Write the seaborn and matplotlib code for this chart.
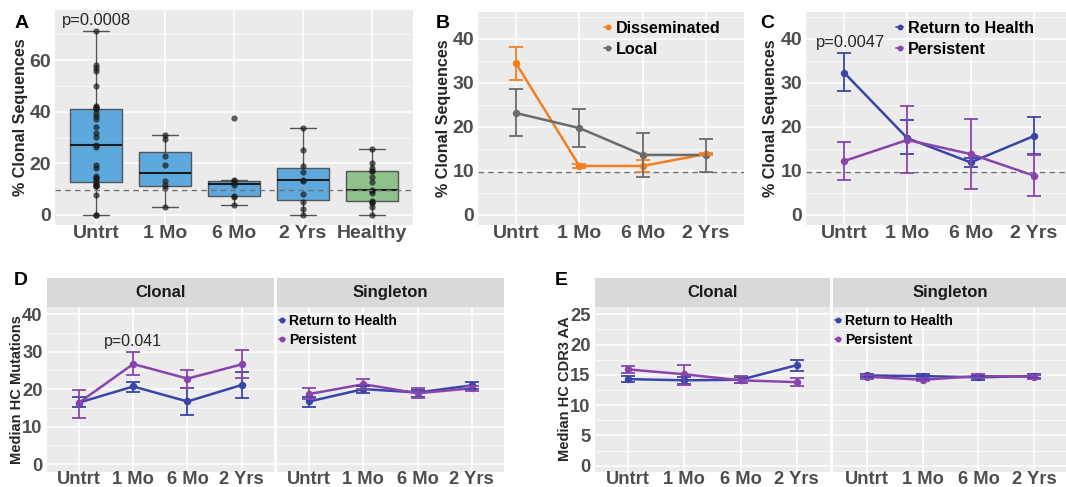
import numpy as np
import pandas as pd
import matplotlib
matplotlib.use("Agg")
import matplotlib.pyplot as plt
import seaborn as sns
from matplotlib.lines import Line2D
from matplotlib.ticker import MultipleLocator

# DATA

times = ["Untrt", "1 Mo", "6 Mo", "2 Yrs"]
groups_a = ["Untrt", "1 Mo", "6 Mo", "2 Yrs", "Healthy"]

untrt_pct = [71.3, 58.0, 57.0, 56.0, 50.2, 42.4, 41.7, 41.3, 41.0, 39.7, 38.4, 37.4,
             34.3, 31.9, 30.4, 27.2, 26.5, 19.5, 18.2, 15.0, 14.3, 14.3, 13.2, 12.4,
             11.7, 11.7, 11.1, 11.1, 7.8, 0.0, 0.0]
mo1_pct = [30.9, 29.6, 22.8, 19.3, 13.3, 11.5, 10.4, 2.9]
mo6_pct = [37.5, 13.5, 13.0, 12.4, 11.7, 7.4, 7.0, 3.9]
yr2_pct = [33.6, 25.0, 18.9, 16.7, 13.7, 13.3, 8.2, 5.0, 2.2, 0.0]
healthy_pct = [25.4, 20.0, 18.2, 17.2, 16.9, 14.7, 12.6, 9.8, 9.3, 8.7, 5.5, 5.0, 4.8, 3.0, 0.0]
healthy_line = 9.8

# panel B
dissem_mean = [34.4, 11.1, 11.1, 13.8]
dissem_lo = [30.6, 10.6, 9.8, 13.5]
dissem_hi = [38.2, 11.6, 12.5, 14.1]
local_mean = [23.1, 19.7, 13.6, 13.6]
local_lo = [17.8, 15.3, 8.7, 9.8]
local_hi = [28.5, 24.0, 18.5, 17.2]

# panel C
c_rth_mean = [32.3, 17.4, 11.9, 17.9]
c_rth_lo = [28.1, 13.8, 10.8, 13.8]
c_rth_hi = [36.7, 21.5, 12.8, 22.1]
c_per_mean = [12.2, 17.0, 13.8, 8.9]
c_per_lo = [7.8, 9.4, 5.9, 4.3]
c_per_hi = [16.5, 24.7, 21.7, 13.6]

# panel D (clonal / singleton)
d_cl_rth_mean = [16.4, 20.7, 16.7, 21.1]
d_cl_rth_lo = [15.1, 19.1, 13.1, 17.7]
d_cl_rth_hi = [18.0, 22.0, 20.4, 24.5]
d_cl_per_mean = [16.4, 26.7, 22.8, 26.6]
d_cl_per_lo = [12.4, 23.8, 20.2, 22.9]
d_cl_per_hi = [19.8, 29.8, 25.1, 30.5]
d_si_rth_mean = [16.7, 20.0, 19.1, 21.0]
d_si_rth_lo = [15.3, 18.9, 18.0, 20.0]
d_si_rth_hi = [18.0, 20.7, 19.8, 22.0]
d_si_per_mean = [18.7, 21.3, 18.9, 20.2]
d_si_per_lo = [17.3, 20.0, 17.5, 19.5]
d_si_per_hi = [20.2, 22.7, 20.2, 20.8]

# panel E (clonal / singleton)
e_cl_rth_mean = [14.3, 14.1, 14.2, 16.6]
e_cl_rth_lo = [13.8, 13.5, 13.7, 15.7]
e_cl_rth_hi = [14.8, 14.7, 14.7, 17.5]
e_cl_per_mean = [15.9, 15.1, 14.1, 13.8]
e_cl_per_lo = [15.3, 13.4, 13.6, 13.2]
e_cl_per_hi = [16.5, 16.6, 14.8, 14.5]
e_si_rth_mean = [14.9, 14.8, 14.6, 14.8]
e_si_rth_lo = [14.6, 14.4, 14.2, 14.5]
e_si_rth_hi = [15.2, 15.1, 14.8, 15.1]
e_si_per_mean = [14.7, 14.2, 14.8, 14.7]
e_si_per_lo = [14.4, 14.0, 14.5, 14.4]
e_si_per_hi = [15.0, 14.5, 15.1, 15.0]

# STYLE

sns.set_style("darkgrid", {"axes.facecolor": "#EBEBEB", "grid.color": "white"})
plt.rcParams["font.family"] = ["Liberation Sans", "DejaVu Sans"]

BLUE_BOX = "#5DA9DD"
GREEN_BOX = "#8FC18D"
ORANGE = "#F47F20"
GRAY = "#6B6B6B"
BLUE = "#3A45A8"
PURPLE = "#8A45AD"
TICK_COL = "#4D4D4D"

W, H = 1066, 487
fig = plt.figure(figsize=(W / 100, H / 100), dpi=100)
fig.patch.set_facecolor("white")


def add_ax(x0, y0, x1, y1):
    return fig.add_axes([x0 / W, 1 - y1 / H, (x1 - x0) / W, (y1 - y0) / H])


def style_ax(ax, ylim, major, tick_size, ncat):
    ax.set_ylim(*ylim)
    ax.set_xlim(-0.6, ncat - 0.4)
    ax.yaxis.set_major_locator(MultipleLocator(major))
    ax.yaxis.set_minor_locator(MultipleLocator(major / 2))
    ax.grid(True, which="major", color="white", lw=1.1)
    ax.grid(True, which="minor", axis="y", color="white", lw=0.5)
    ax.set_axisbelow(True)
    for s in ax.spines.values():
        s.set_visible(False)
    ax.tick_params(which="major", length=2, width=0.8, color="#333333",
                   labelsize=tick_size, labelcolor=TICK_COL)
    ax.tick_params(axis="y", pad=0.8)
    ax.tick_params(axis="x", pad=-2.2)
    ax.tick_params(which="minor", length=0)
    for lab in ax.get_xticklabels() + ax.get_yticklabels():
        lab.set_fontweight("bold")
    ax.set_xlabel("")


def draw_series(ax, means, los, his, colors, names):
    rows = []
    for name, m in zip(names, means):
        for t, v in zip(times, m):
            rows.append({"time": t, "val": v, "grp": name})
    df = pd.DataFrame(rows)
    pos = np.arange(len(times))
    for m, lo, hi, c in zip(means, los, his, colors):
        m = np.array(m)
        ax.errorbar(pos, m, yerr=[m - np.array(lo), np.array(hi) - m], fmt="none",
                    ecolor=c, elinewidth=1.3, capsize=4.7, capthick=1.3, zorder=3)
    sns.pointplot(data=df, x="time", y="val", hue="grp", order=times, hue_order=names,
                  palette=dict(zip(names, colors)), errorbar=None, markers="o",
                  markersize=4, linewidth=1.8, legend=False, ax=ax)


def add_legend(ax, names, colors, left, top, size):
    handles = [Line2D([], [], color=c, marker="o", markersize=3.2, lw=1.2) for c in colors]
    leg = ax.legend(handles, names, loc="upper left",
                    bbox_to_anchor=(left / W, 1 - top / H), bbox_transform=fig.transFigure,
                    frameon=False, handlelength=0.45, handletextpad=0.3, borderpad=0,
                    borderaxespad=0, labelspacing=0.38,
                    prop={"size": size, "weight": "bold"})
    for t in leg.get_texts():
        t.set_color("black")


def add_strip(x0, x1, label):
    sax = add_ax(x0, 278.3, x1, 306.5)
    sax.set_facecolor("#D9D9D9")
    sax.set_xticks([])
    sax.set_yticks([])
    sax.grid(False)
    for s in sax.spines.values():
        s.set_visible(False)
    sax.text(0.5, 0.5, label, ha="center", va="center", fontsize=12,
             fontweight="bold", color="#1A1A1A", transform=sax.transAxes)


# PANEL A

rows = []
for g, vals in zip(groups_a, [untrt_pct, mo1_pct, mo6_pct, yr2_pct, healthy_pct]):
    for v in vals:
        rows.append({"group": g, "pct": v})
df_a = pd.DataFrame(rows)

ax_a = add_ax(55, 10, 413, 225)
sns.boxplot(data=df_a, x="group", y="pct", hue="group", order=groups_a,
            palette=[BLUE_BOX] * 4 + [GREEN_BOX], saturation=1, width=0.75,
            showfliers=False, linewidth=1, linecolor="#555555", whis=1.5, legend=False,
            medianprops={"color": "#1A1A1A", "linewidth": 1.5}, ax=ax_a)
sns.stripplot(data=df_a, x="group", y="pct", order=groups_a, jitter=False,
              color="#1A1A1A", alpha=0.7, size=4.5, ax=ax_a)
ax_a.axhline(healthy_line, ls=(0, (4, 3)), color="#707070", lw=1, zorder=5)
style_ax(ax_a, (-3.9, 79.5), 20, 14, 5)
ax_a.text(0, 75.6, "p=0.0008", ha="center", va="center", fontsize=11.9)
ax_a.set_ylabel("% Clonal Sequences", fontsize=11.6, fontweight="bold")
ax_a.yaxis.set_label_coords(-0.075, 0.5)

# PANEL B

ax_b = add_ax(478, 11.7, 744, 225)
draw_series(ax_b, [dissem_mean, local_mean], [dissem_lo, local_lo], [dissem_hi, local_hi],
            [ORANGE, GRAY], ["Disseminated", "Local"])
ax_b.axhline(healthy_line, ls=(0, (4, 3)), color="#707070", lw=1, zorder=1.5)
style_ax(ax_b, (-2.3, 46.1), 10, 14, 4)
ax_b.set_ylabel("% Clonal Sequences", fontsize=11.6, fontweight="bold")
ax_b.yaxis.set_label_coords(-0.1, 0.5)
add_legend(ax_b, ["Disseminated", "Local"], [ORANGE, GRAY], 604, 21, 11.6)

# PANEL C

ax_c = add_ax(806, 11.7, 1072, 225)
draw_series(ax_c, [c_rth_mean, c_per_mean], [c_rth_lo, c_per_lo], [c_rth_hi, c_per_hi],
            [BLUE, PURPLE], ["Return to Health", "Persistent"])
ax_c.axhline(healthy_line, ls=(0, (4, 3)), color="#707070", lw=1, zorder=1.5)
style_ax(ax_c, (-2.3, 46.1), 10, 14, 4)
ax_c.text(0.1, 39.2, "p=0.0047", ha="center", va="center", fontsize=11.9)
ax_c.set_ylabel("% Clonal Sequences", fontsize=11.6, fontweight="bold")
ax_c.yaxis.set_label_coords(-0.104, 0.5)
add_legend(ax_c, ["Return to Health", "Persistent"], [BLUE, PURPLE], 896, 21, 11.6)

# PANEL D

ax_d1 = add_ax(46.5, 306.7, 274.2, 471.7)
draw_series(ax_d1, [d_cl_rth_mean, d_cl_per_mean], [d_cl_rth_lo, d_cl_per_lo],
            [d_cl_rth_hi, d_cl_per_hi], [BLUE, PURPLE], ["Return to Health", "Persistent"])
style_ax(ax_d1, (-2.05, 42), 10, 13.2, 4)
ax_d1.text(1, 32.7, "p=0.041", ha="center", va="center", fontsize=11.4)
ax_d1.set_ylabel("Median HC Mutations", fontsize=10.5, fontweight="bold")
ax_d1.yaxis.set_label_coords(-0.099, 0.5)

ax_d2 = add_ax(276.8, 306.7, 504.2, 471.7)
draw_series(ax_d2, [d_si_rth_mean, d_si_per_mean], [d_si_rth_lo, d_si_per_lo],
            [d_si_rth_hi, d_si_per_hi], [BLUE, PURPLE], ["Return to Health", "Persistent"])
style_ax(ax_d2, (-2.05, 42), 10, 13.2, 4)
ax_d2.tick_params(axis="y", length=0, labelleft=False)
ax_d2.set_ylabel("")
add_legend(ax_d2, ["Return to Health", "Persistent"], [BLUE, PURPLE], 279, 314, 10)
add_strip(46.5, 274.2, "Clonal")
add_strip(276.8, 504.2, "Singleton")

# PANEL E

ax_e1 = add_ax(594.6, 306.5, 830.4, 471.7)
draw_series(ax_e1, [e_cl_rth_mean, e_cl_per_mean], [e_cl_rth_lo, e_cl_per_lo],
            [e_cl_rth_hi, e_cl_per_hi], [BLUE, PURPLE], ["Return to Health", "Persistent"])
style_ax(ax_e1, (-1.0, 26.3), 5, 13.2, 4)
ax_e1.set_ylabel("Median HC CDR3 AA", fontsize=10.5, fontweight="bold")
ax_e1.yaxis.set_label_coords(-0.096, 0.5)

ax_e2 = add_ax(833, 306.5, 1068, 471.7)
draw_series(ax_e2, [e_si_rth_mean, e_si_per_mean], [e_si_rth_lo, e_si_per_lo],
            [e_si_rth_hi, e_si_per_hi], [BLUE, PURPLE], ["Return to Health", "Persistent"])
style_ax(ax_e2, (-1.0, 26.3), 5, 13.2, 4)
ax_e2.tick_params(axis="y", length=0, labelleft=False)
ax_e2.set_ylabel("")
add_legend(ax_e2, ["Return to Health", "Persistent"], [BLUE, PURPLE], 834.6, 314, 10)
add_strip(594.6, 830.4, "Clonal")
add_strip(833, 1068, "Singleton")

# PANEL LETTERS

for letter, x, y in [("A", 15, 28), ("B", 436, 28), ("C", 760, 28), ("D", 14, 285), ("E", 555, 285)]:
    fig.text(x / W, 1 - y / H, letter, fontsize=14, fontweight="bold", color="black",
             ha="left", va="baseline")

fig.savefig("out.png", dpi=100)
